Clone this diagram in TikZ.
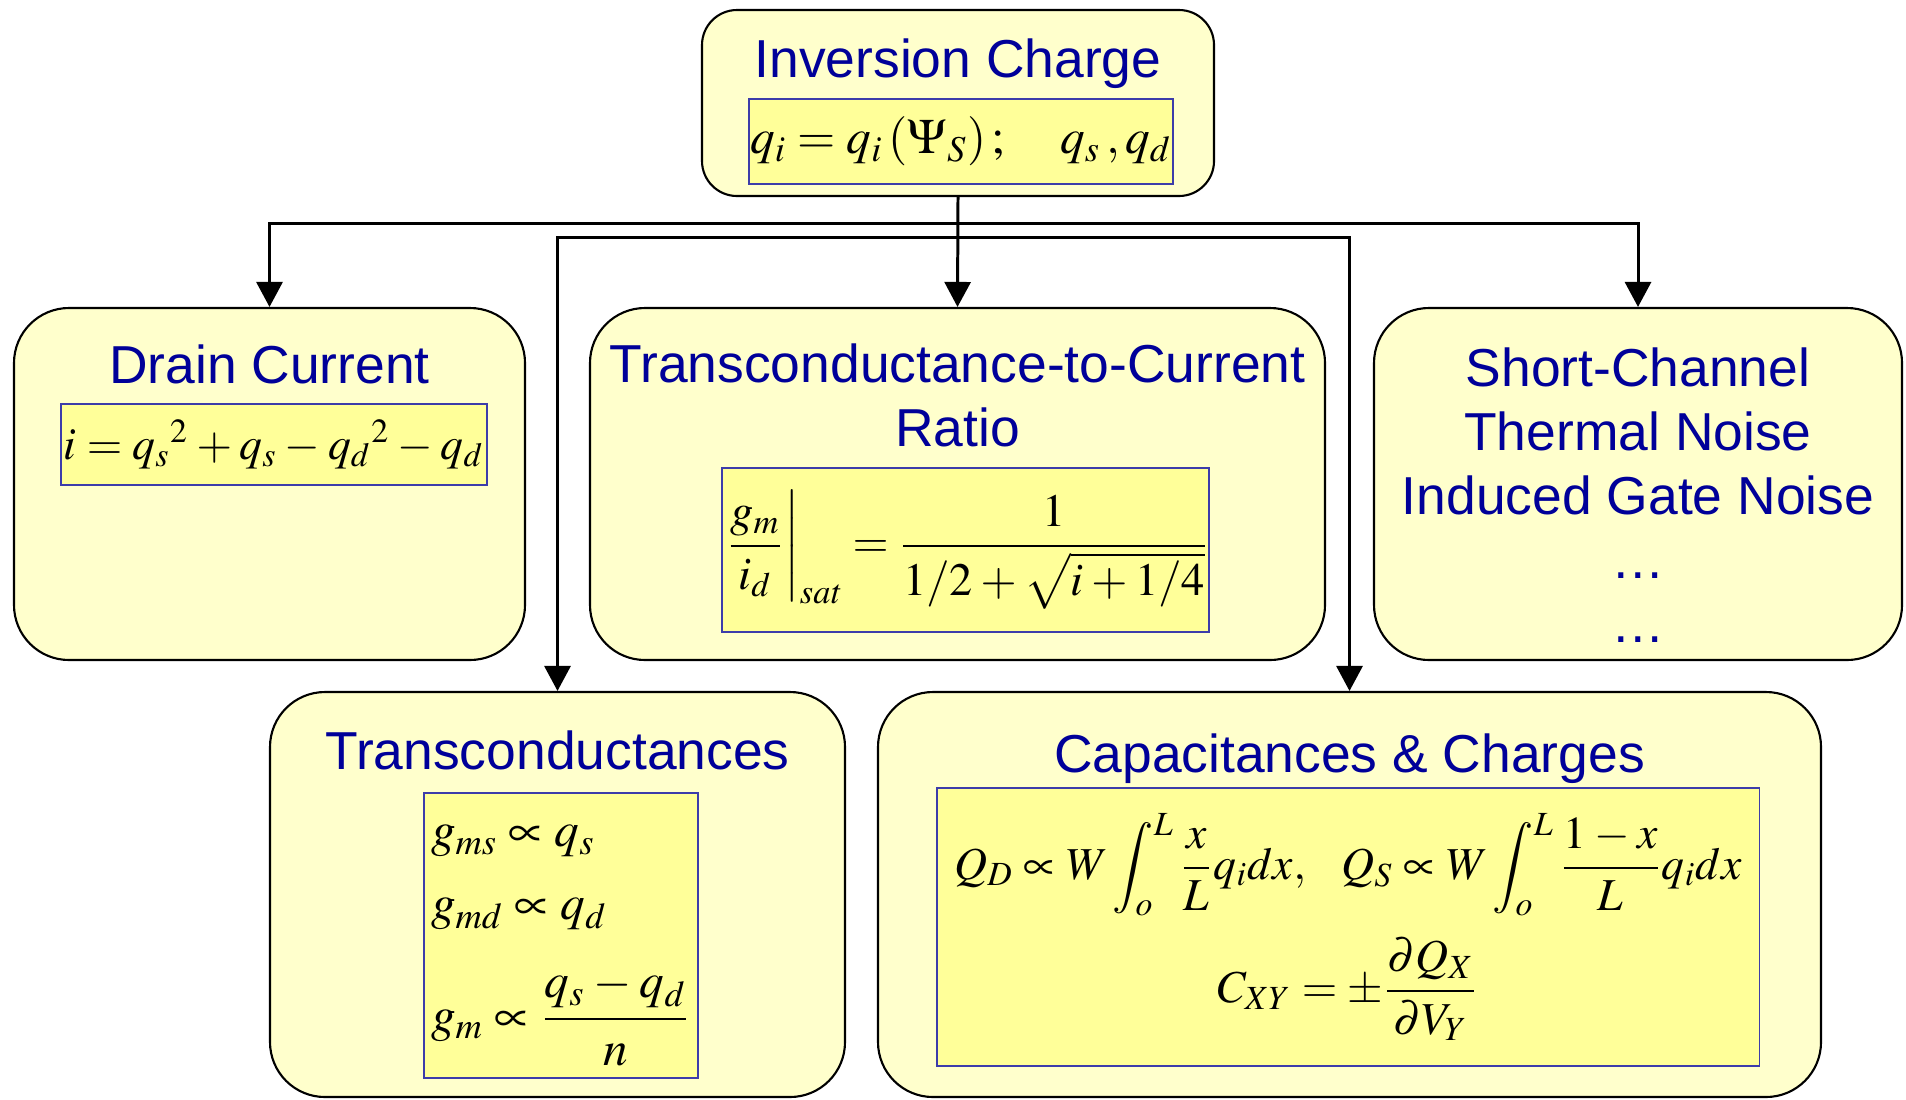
\documentclass[tikz,border=0pt]{standalone}
\usepackage{amsmath}
\usepackage{mathptmx}
\usepackage[no-math]{fontspec}
\setmainfont{Liberation Sans}
\usepackage{tikz}
\usetikzlibrary{arrows.meta, positioning, calc}
\usepackage{xcolor}
\definecolor{panelfill}{RGB}{255,255,204}
\definecolor{eqfill}{RGB}{255,255,153}
\definecolor{eqline}{RGB}{60,60,170}
\definecolor{headblue}{RGB}{0,0,153}
\newcommand{\eqsize}[1]{\fontsize{#1}{1.2\dimexpr#1pt}\selectfont\thickmuskip=4mu\medmuskip=3mu}

\begin{document}
\begin{tikzpicture}[
  panel/.style={draw=black, line width=0.6pt, fill=panelfill, rounded corners=0.55cm, inner sep=0pt},
  eqbox/.style={draw=eqline, line width=0.4pt, fill=eqfill, inner sep=0pt},
  heading/.style={text=headblue, font=\fontsize{15.2}{18.2}\selectfont, align=center},
  link/.style={line width=0.85pt, -{Triangle[length=0.25cm, width=0.26cm]}}
]
\useasboundingbox (0,0) rectangle (19.06,-10.99);
\clip (0,0) rectangle (19.06,-10.99);

% panels
\node[panel, rounded corners=0.35cm, minimum width=5.12cm, minimum height=1.86cm] (inv) at (9.58,-1.03) {};
\node[panel, minimum width=5.11cm, minimum height=3.52cm] (drain) at (2.695,-4.84) {};
\node[panel, minimum width=7.35cm, minimum height=3.52cm] (ratio) at (9.575,-4.84) {};
\node[panel, minimum width=5.28cm, minimum height=3.52cm] (noise) at (16.38,-4.84) {};
\node[panel, minimum width=5.75cm, minimum height=4.05cm] (trans) at (5.575,-8.945) {};
\node[panel, minimum width=9.43cm, minimum height=4.05cm] (cap) at (13.495,-8.945) {};

% headings (base = last line)
\node[heading, anchor=base] (invT) at (9.58,-0.77) {Inversion Charge};
\node[heading, anchor=base] (drainT) at (2.695,-3.83) {Drain Current};
\node[heading, anchor=base] (ratioT) at (9.575,-4.46) {Transconductance-to-Current\\Ratio};
\node[heading, anchor=base] (noiseT) at (16.38,-6.42) {Short-Channel\\Thermal Noise\\Induced Gate Noise\\\dots\\\dots};
\node[heading, anchor=base] (transT) at (5.575,-7.69) {Transconductances};
\node[heading, anchor=base] (capT) at (13.495,-7.72) {Capacitances \& Charges};

% formulas
\node[eqbox, minimum width=4.24cm, minimum height=0.85cm, font=\eqsize{14}] (invE) at (9.61,-1.415)
  {$q_i = q_i\left(\Psi_S\right);\quad q_s\,,q_d$};
\node[eqbox, minimum width=4.26cm, minimum height=0.81cm, font=\eqsize{13}] (drainE) at (2.74,-4.445)
  {$i = {q_s}^{2} + q_s - {q_d}^{2} - q_d$};
\node[eqbox, minimum width=4.75cm, minimum height=1.64cm, font=\eqsize{13.2}] (ratioE) at (9.655,-5.5)
  {$\displaystyle \left.\frac{g_m}{i_d}\right|_{\mathit{sat}} = \frac{1}{1/2+\sqrt{i+1/4}}$};
\node[eqbox, minimum width=2.74cm, minimum height=2.85cm, text width=2.6cm, align=left, font=\eqsize{14}] (transE) at (5.61,-9.355)
  {$\begin{array}{@{}l@{}} g_{ms}\propto q_s\\[4pt] g_{md}\propto q_d\\[9pt] g_m\propto\dfrac{q_s-q_d}{n}\end{array}$};
\node[eqbox, minimum width=8.14cm, minimum height=2.78cm, font=\eqsize{13}] (capE) at (13.48,-9.27)
  {$\begin{array}{c} Q_D\propto W\displaystyle\int_o^L\frac{x}{L}q_i dx,\;\;\; Q_S\propto W\displaystyle\int_o^L\frac{1-x}{L}q_i dx\\[12pt] C_{XY}=\pm\dfrac{\partial Q_X}{\partial V_Y}\end{array}$};

% connectors
\coordinate (busA) at (9.58,-2.23);
\coordinate (busB) at (9.58,-2.37);
\draw[link] (inv.south) -- (ratio.north);
\draw[link] (busA) -| (drain.north);
\draw[link] (busA) -| (noise.north);
\draw[link] (busB) -| (trans.north);
\draw[link] (busB) -| (cap.north);
\end{tikzpicture}
\end{document}
